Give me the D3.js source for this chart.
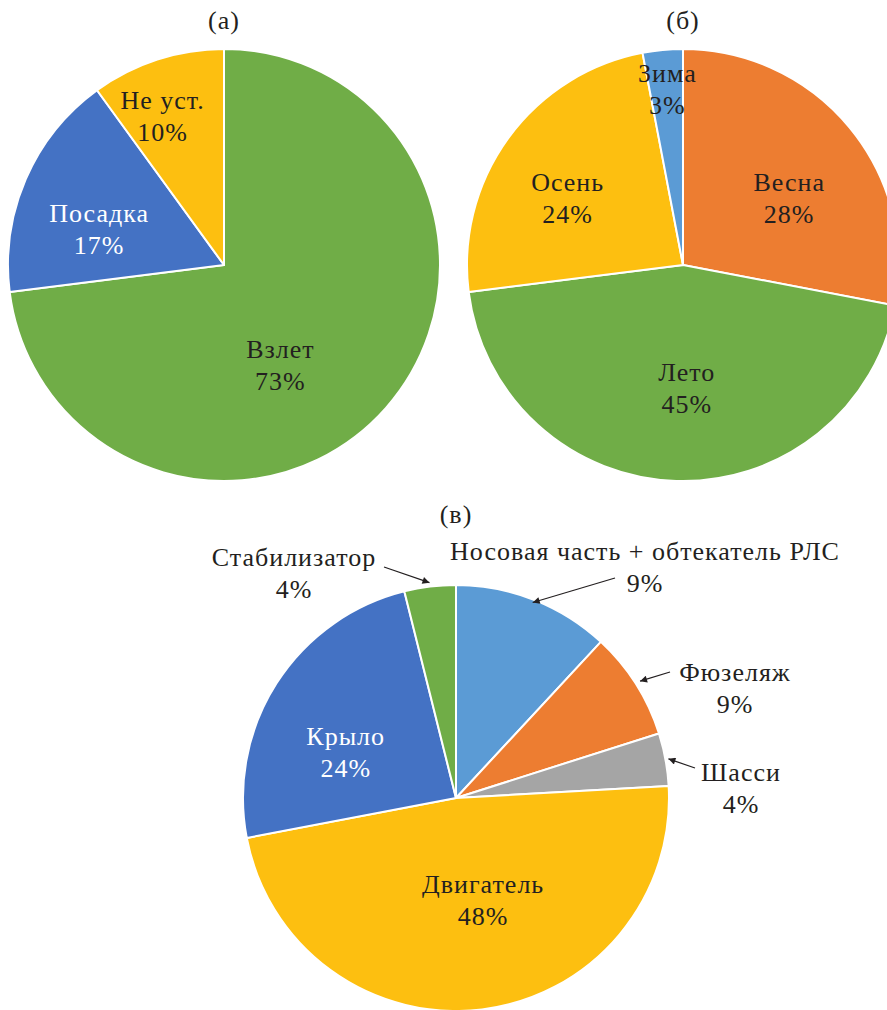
<!DOCTYPE html>
<html><head><meta charset="utf-8">
<script src="https://cdn.jsdelivr.net/npm/d3@7"></script>
<style>body{margin:0;background:#fff}svg{display:block}</style>
</head><body>
<svg id="chart" width="887" height="1010"></svg>
<script>
// ---- data ----
const titles = ["(а)", "(б)", "(в)"];

const causeCategories = ["Взлет", "Посадка", "Не уст."];
const causeValues = [73, 17, 10];
const causeLabels = ["73%", "17%", "10%"];

const seasonCategories = ["Весна", "Лето", "Осень", "Зима"];
const seasonValues = [28, 45, 24, 3];
const seasonLabels = ["28%", "45%", "24%", "3%"];

const partCategories = ["Носовая часть + обтекатель РЛС", "Фюзеляж", "Шасси", "Двигатель", "Крыло", "Стабилизатор"];
const partValues = [11.9, 8.2, 4.0, 47.9, 24.1, 3.9];
const partLabels = ["9%", "9%", "4%", "48%", "24%", "4%"];

// ---- style / layout ----
const C = {green:"#70AD47", blue:"#4472C4", yellow:"#FDBF10", orange:"#ED7D31", lblue:"#5B9BD5", gray:"#A5A5A5"};
const FONT = "'Liberation Serif', 'Tinos', 'DejaVu Serif', serif";
const FS = 26, LS = 1, LH = 31, DARK = "#231f20";

const svg = d3.select("#chart").attr("font-family", FONT);
svg.append("rect").attr("width",887).attr("height",1010).attr("fill","#fff");
const defs = svg.append("defs");
defs.append("marker").attr("id","arr").attr("viewBox","0 0 10 10").attr("refX",10).attr("refY",5)
  .attr("markerWidth",10).attr("markerHeight",7).attr("markerUnits","userSpaceOnUse").attr("orient","auto")
  .append("path").attr("d","M0,0 L10,5 L0,10 z").attr("fill","#231f20");

function drawPie(cfg){
  const g = svg.append("g").attr("transform",`translate(${cfg.cx},${cfg.cy})`);
  const data = cfg.cats.map((c,i)=>({cat:c, value:cfg.values[i], label:cfg.labels[i], i}));
  const arcs = d3.pie().sort(null).value(d=>d.value)(data);
  const arc = d3.arc().innerRadius(0).outerRadius(cfg.r);
  const labelArc = d3.arc().innerRadius(cfg.r*0.62).outerRadius(cfg.r*0.62);
  g.selectAll("path.slice").data(arcs).join("path").attr("class","slice")
    .attr("d",arc).attr("fill",d=>cfg.colors[d.index])
    .attr("stroke","#fff").attr("stroke-width",2).attr("stroke-linejoin","round");
  svg.append("text").attr("x",cfg.cx).attr("y",cfg.titleY).attr("text-anchor","middle")
    .attr("font-family",FONT).attr("font-size",FS).attr("letter-spacing",LS).attr("fill",DARK).text(cfg.title);
  arcs.forEach(a=>{
    const co = cfg.callouts && cfg.callouts[a.index];
    let tx, ty;
    if(co){
      tx = co.tx; ty = co.ty;
      const ang = (a.startAngle+a.endAngle)/2;
      const rr = cfg.r + co.tipOff;
      const px = cfg.cx + rr*Math.sin(ang), py = cfg.cy - rr*Math.cos(ang);
      svg.append("line").attr("x1",co.ax).attr("y1",co.ay).attr("x2",px).attr("y2",py)
        .attr("stroke","#231f20").attr("stroke-width",1.2).attr("marker-end","url(#arr)");
    } else {
      const [x,y] = labelArc.centroid(a);
      const n = (cfg.nudge && cfg.nudge[a.index]) || [0,0];
      tx = cfg.cx + x + n[0]; ty = cfg.cy + y + n[1] - LH/2;
    }
    const col = (cfg.white && cfg.white.includes(a.index)) ? "#fff" : DARK;
    const t = svg.append("text").attr("text-anchor","middle").attr("font-family",FONT)
      .attr("font-size",FS).attr("letter-spacing",LS).attr("fill",col);
    t.append("tspan").attr("x",tx).attr("y",ty).attr("dy","0.35em").text(a.data.cat);
    t.append("tspan").attr("x",tx).attr("y",ty+LH+1).attr("dy","0.35em").text(a.data.label);
  });
}

drawPie({cx:224, cy:265, r:216, title:titles[0], titleY:29,
  cats:causeCategories, values:causeValues, labels:causeLabels,
  colors:[C.green, C.blue, C.yellow], white:[1],
  nudge:[[-44,11],[-2,17],[-20,-22]]});

drawPie({cx:683, cy:265, r:216, title:titles[1], titleY:29,
  cats:seasonCategories, values:seasonValues, labels:seasonLabels,
  colors:[C.orange, C.green, C.yellow, C.lblue],
  nudge:[[3,18],[8,-11],[-7,11],[-3,-43]]});

drawPie({cx:456, cy:798, r:213, title:titles[2], titleY:523,
  cats:partCategories, values:partValues, labels:partLabels,
  colors:[C.lblue, C.orange, C.gray, C.yellow, C.blue, C.green], white:[4],
  nudge:[[0,0],[0,0],[0,0],[11,-30],[1,25],[0,0]],
  callouts:{
    0:{tx:645, ty:551, ax:615, ay:578, tipOff:-3},
    1:{tx:735, ty:672, ax:670, ay:672, tipOff:5},
    2:{tx:741, ty:772, ax:695, ay:768, tipOff:3},
    5:{tx:294, ty:557, ax:384, ay:567, tipOff:4}
  }});
</script>
</body></html>
